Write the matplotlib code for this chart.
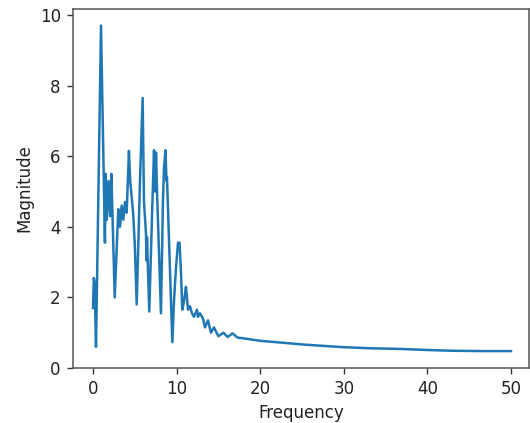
import matplotlib
matplotlib.use("Agg")
import matplotlib.pyplot as plt

freq = [0.0, 0.1, 0.2, 0.36, 0.96, 1.43, 1.5, 1.65, 1.85, 2.05, 2.2, 2.6,
        2.83, 3.03, 3.23, 3.43, 3.62, 3.83, 4.03, 4.3, 4.45, 4.8, 5.0, 5.23,
        5.5, 5.62, 5.94, 6.1, 6.34, 6.4, 6.46, 6.73,
        7.09, 7.18, 7.3, 7.42, 7.54, 7.66, 8.13,
        8.37, 8.49, 8.67, 8.79, 8.85, 9.49,
        9.69, 9.93, 10.17, 10.35, 10.53, 10.68, 10.89, 11.12, 11.24, 11.36,
        11.6, 11.84, 12.08, 12.44, 12.56, 12.8, 13.16, 13.4, 13.76, 14.11,
        14.47, 15.0, 15.6, 16.1, 16.7, 17.3, 18.0, 20.0, 22.5, 25.4, 28.0,
        30.0, 33.0, 36.7, 40.0, 42.7, 46.0, 50.0]
magnitude = [1.7, 2.55, 2.4, 0.6, 9.7, 3.55, 5.5, 4.2, 5.3, 4.3, 5.5, 2.0,
             3.35, 4.5, 4.0, 4.6, 4.2, 4.7, 4.4, 6.15, 5.3, 4.4, 3.5, 1.8,
             4.2, 5.3, 7.65, 4.7, 3.8, 3.05, 3.7, 1.6,
             4.55, 5.25, 6.17, 5.0, 6.1, 5.0, 1.55,
             4.75, 5.65, 6.17, 5.3, 5.4, 0.73,
             1.9, 2.85, 3.55, 3.55, 2.7, 1.65, 1.9, 2.3, 2.0, 1.65,
             1.75, 1.55, 1.45, 1.65, 1.45, 1.55, 1.4, 1.15, 1.35, 1.0,
             1.15, 0.9, 1.0, 0.88, 0.98, 0.86, 0.84, 0.77, 0.72, 0.66, 0.62,
             0.59, 0.56, 0.54, 0.51, 0.49, 0.48, 0.48]

fig = plt.figure(figsize=(5.3, 4.23), dpi=100)
ax = fig.add_axes([72.5 / 530, 55 / 423, (529 - 72.5) / 530, 359 / 423])
ax.plot(freq, magnitude, color="#1f77b4", linewidth=1.8)
ax.set_xlim(-2.45, 52.15)
ax.set_ylim(0, 10.17)
ax.set_xticks([0, 10, 20, 30, 40, 50])
ax.set_yticks([0, 2, 4, 6, 8, 10])
ax.tick_params(labelsize=12, length=4.2, width=1.0, pad=4.2, colors="#333333",
               labelcolor="#222222")
for s in ax.spines.values():
    s.set_color("#555555")
    s.set_linewidth(1.1)
ax.set_xlabel("Frequency", fontsize=12, labelpad=4.8, color="#222222")
ax.set_ylabel("Magnitude", fontsize=12, labelpad=4.8, color="#222222")
fig.savefig("out.png", dpi=100)
